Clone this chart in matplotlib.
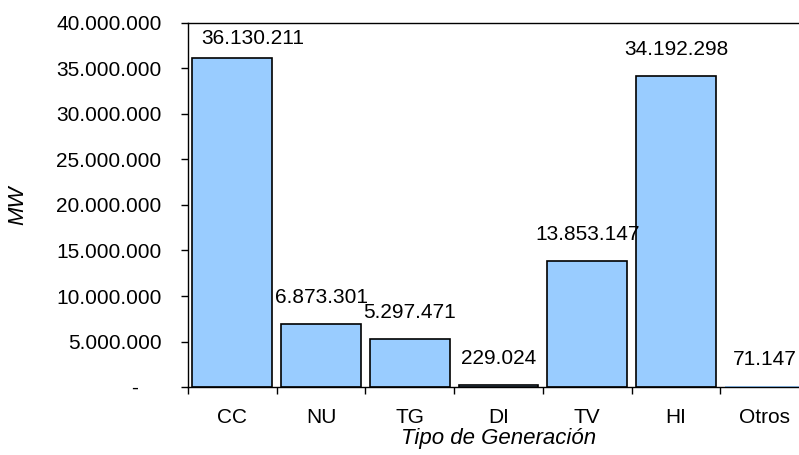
import matplotlib
matplotlib.use("Agg")
import matplotlib.pyplot as plt
import numpy as np

categories = ["CC", "NU", "TG", "DI", "TV", "HI", "Otros"]
values = [36130211, 6873301, 5297471, 229024, 13853147, 34192298, 71147]
yticks = [0, 5000000, 10000000, 15000000, 20000000, 25000000, 30000000, 35000000, 40000000]

plt.rcParams['font.family'] = ['Liberation Sans', 'DejaVu Sans']

def fmt(v):
    return f"{v:,.0f}".replace(",", ".")

fig = plt.figure(figsize=(7.99, 4.55), dpi=100)
ax = fig.add_axes([188/799, 68/455, 621/799, 364/455])
ymax = 40000000

x = np.arange(len(categories))
# bars thinner than one pixel get no outline (as in the reference)
lws = [1.2 if v / ymax * 364 >= 1 else 0 for v in values]
ax.bar(x, values, width=0.9, color="#99CCFF", edgecolor="black", linewidth=lws, zorder=2)

ax.set_xlim(-0.5, len(categories) - 0.5)
ax.set_ylim(0, ymax)

# y axis
ax.set_yticks(yticks)
ax.set_yticklabels(["-    " if t == 0 else fmt(t) for t in yticks], fontsize=15)
ax.tick_params(axis="y", direction="out", length=5, width=1, pad=14)

# x axis: ticks at boundaries, labels at centers
ax.set_xticks(np.arange(len(categories) + 1) - 0.5)
ax.set_xticklabels([])
ax.set_xticks(x, minor=True)
ax.set_xticklabels(categories, minor=True, fontsize=15)
ax.tick_params(axis="x", which="major", direction="out", length=5, width=1)
ax.tick_params(axis="x", which="minor", length=0, pad=15)

for s in ["left", "bottom", "top"]:
    ax.spines[s].set_linewidth(1.0)
    ax.spines[s].set_zorder(3)
ax.spines["right"].set_visible(False)

# data labels
for i, v in enumerate(values):
    dx, dy = 0, 21
    if i == 0:
        dx, dy = 20, 14
    ax.annotate(fmt(v), xy=(x[i], v), xytext=(dx, dy), textcoords="offset pixels",
                ha="center", va="baseline", fontsize=15)

ax.set_ylabel("MW", fontsize=16, style="italic")
ax.yaxis.set_label_coords(-160/621, 0.5)
ax.set_xlabel("Tipo de Generación", fontsize=16, style="italic")
ax.xaxis.set_label_coords(0.5, -41/364)

fig.savefig("out.png", dpi=100)
